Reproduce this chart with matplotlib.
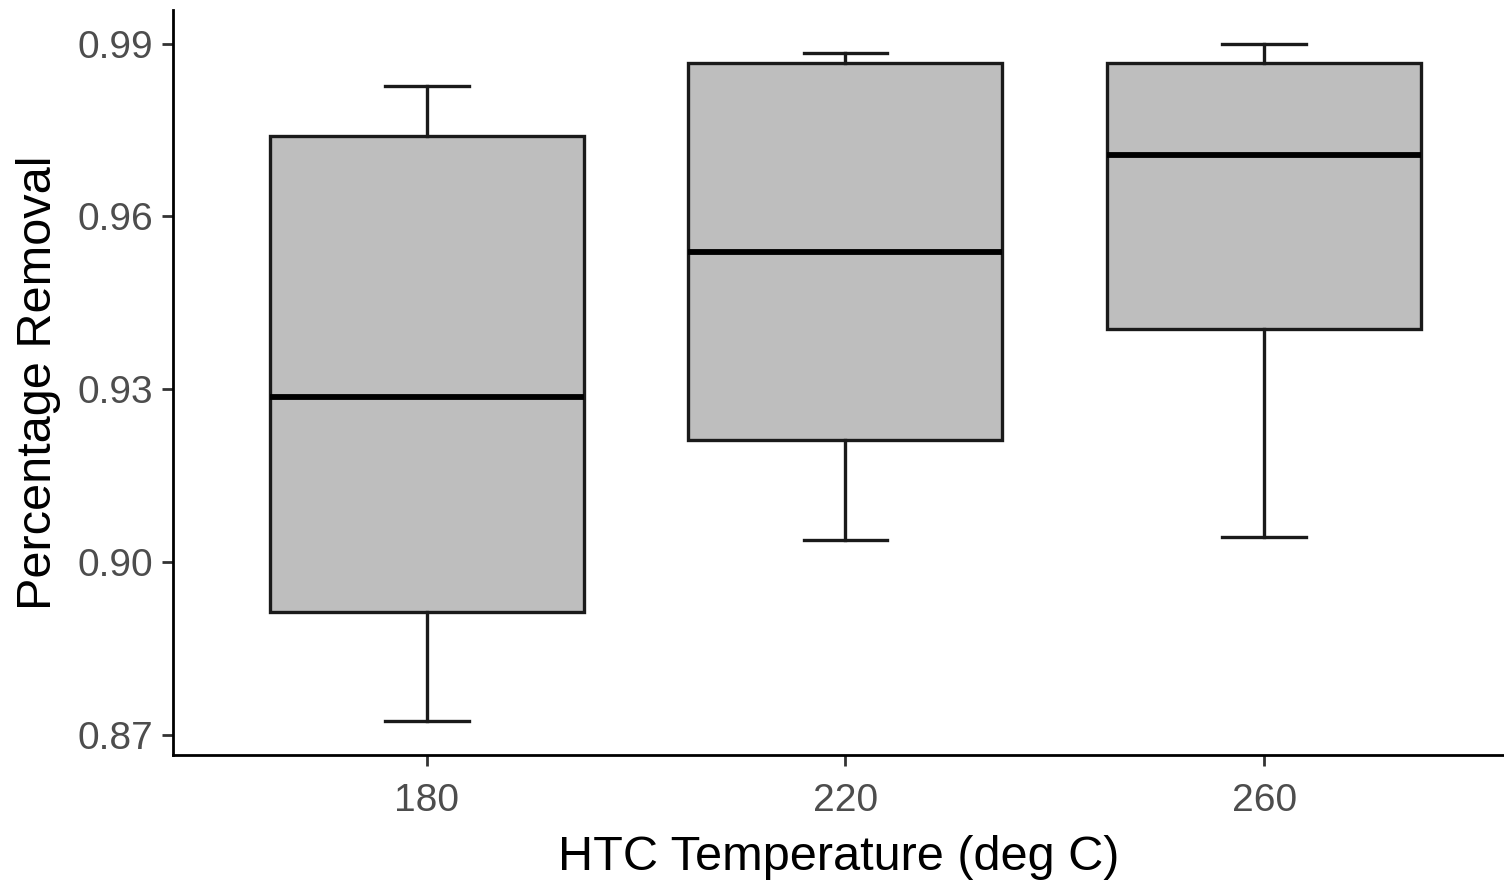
import matplotlib
matplotlib.use("Agg")
import matplotlib.pyplot as plt

plt.rcParams["font.family"] = ["Liberation Sans", "DejaVu Sans"]

temperatures = ["180", "220", "260"]
whisker_low = [0.8724, 0.9039, 0.9044]
q1 = [0.8914, 0.9212, 0.9405]
median = [0.9287, 0.9539, 0.9706]
q3 = [0.9740, 0.9867, 0.9867]
whisker_high = [0.9827, 0.9884, 0.9900]
y_ticks = [0.87, 0.90, 0.93, 0.96, 0.99]

stats = []
for i, t in enumerate(temperatures):
    stats.append({"label": t, "whislo": whisker_low[i], "q1": q1[i], "med": median[i],
                  "q3": q3[i], "whishi": whisker_high[i], "fliers": []})

fig = plt.figure(figsize=(15.04, 8.85), dpi=100)
ax = fig.add_axes([0.115, 0.147, 0.885, 0.842])

line_col = "#1a1a1a"
ax.bxp(stats, positions=[1, 2, 3], widths=0.75, patch_artist=True, showfliers=False,
       boxprops=dict(facecolor="#BEBEBE", edgecolor=line_col, linewidth=2.4),
       whiskerprops=dict(color=line_col, linewidth=2.4),
       capprops=dict(color=line_col, linewidth=2.4),
       medianprops=dict(color="black", linewidth=4.2),
       capwidths=0.2)

ax.set_xlim(0.394, 3.573)
ax.set_ylim(0.8665, 0.9959)
ax.set_yticks(y_ticks)
ax.set_yticklabels([f"{v:.2f}" for v in y_ticks])
ax.set_xticks([1, 2, 3])
ax.set_xticklabels(temperatures)

for side in ["top", "right"]:
    ax.spines[side].set_visible(False)
for side in ["left", "bottom"]:
    ax.spines[side].set_linewidth(2)
    ax.spines[side].set_color("black")

ax.tick_params(axis="both", labelsize=28, labelcolor="#4D4D4D", color="#333333",
               length=8, width=2)
ax.tick_params(axis="x", pad=12)
ax.tick_params(axis="y", pad=6)

ax.set_xlabel("HTC Temperature (deg C)", fontsize=35, color="black", labelpad=12)
ax.set_ylabel("Percentage Removal", fontsize=35, color="black", labelpad=12)

fig.savefig("out.png", dpi=100)
